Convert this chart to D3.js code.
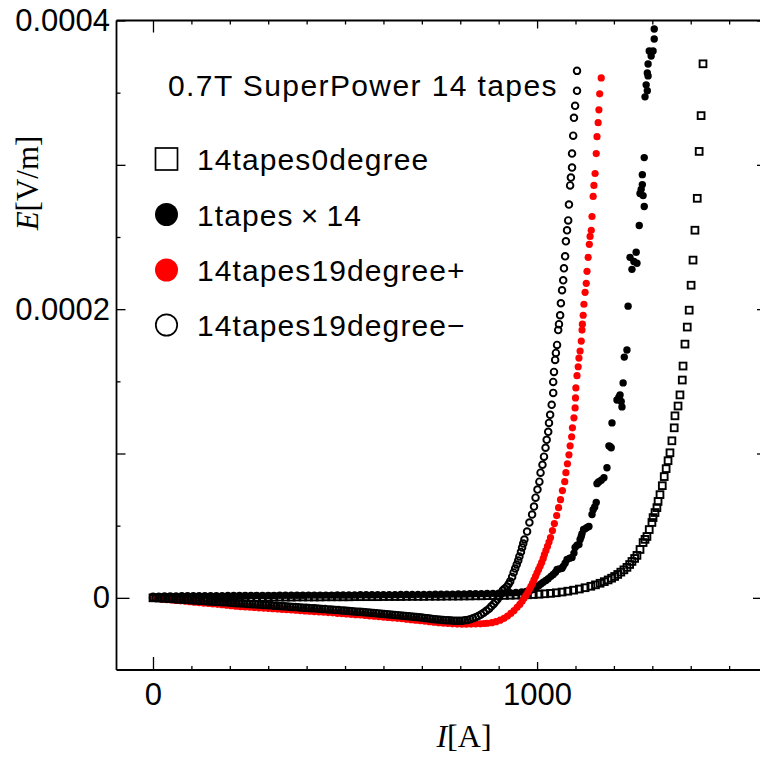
<!DOCTYPE html>
<html>
<head>
<meta charset="utf-8">
<script src="https://cdn.jsdelivr.net/npm/d3@7"></script>
<style>
  body { margin: 0; background: #fff; }
</style>
</head>
<body>
<svg id="chart" width="760" height="758"></svg>
<script>
// each point: [I in A, E in µV/m]
const tapes14Deg0 = [
  [0,0.0],[15,0.0],[30,0.1],[45,0.1],[60,0.1],[75,0.1],[90,0.2],[105,0.2],[120,0.2],[135,0.2],
  [150,0.3],[165,0.3],[180,0.3],[195,0.3],[210,0.3],[225,0.4],[240,0.4],[255,0.4],[270,0.4],[285,0.4],
  [300,0.5],[315,0.5],[330,0.5],[345,0.5],[360,0.5],[375,0.6],[390,0.6],[405,0.6],[420,0.6],[435,0.6],
  [450,0.7],[465,0.7],[480,0.7],[495,0.7],[510,0.7],[525,0.8],[540,0.8],[555,0.8],[570,0.8],[585,0.8],
  [600,0.9],[615,0.9],[630,0.9],[645,0.9],[660,1.0],[675,1.0],[690,1.0],[705,1.0],[720,1.1],[735,1.1],
  [750,1.1],[765,1.2],[780,1.2],[795,1.2],[810,1.3],[825,1.3],[840,1.4],[855,1.4],[870,1.5],[885,1.5],
  [900,1.6],[915,1.7],[930,1.8],[945,1.9],[960,2.0],[975,2.1],[990,2.3],[1005,2.5],[1020,2.8],[1035,3.1],
  [1050,3.5],[1065,4.0],[1080,4.6],[1095,5.3],[1110,6.1],[1125,7.0],[1140,8.0],[1152,9.0],[1164,10.1],[1175,11.2],
  [1185,12.4],[1194,13.6],[1202,14.8],[1210,16.2],[1218,17.8],[1226,19.4],[1234,21.1],[1241,23.1],[1247,25.2],[1254,27.3],
  [1260,29.4],[1268,33.5],[1276,38.3],[1281,40.5],[1286,42.5],[1292,47.3],[1299,52.2],[1302,55.6],[1307,59.1],[1312,62.5],
  [1315,66.8],[1320,71.5],[1326,77.7],[1331,84.0],[1336,89.5],[1341,95.0],[1346,100.5],[1351,108.8],[1357,117.8],[1359,126.1],
  [1367,132.9],[1372,140.6],[1378,150.9],[1380,160.6],[1385,175.8],[1391,187.6],[1396,199.3],[1401,216.6],[1406,234.0],[1411,254.7],
  [1417,276.8],[1422,309.3],[1427,334.1],[1432,370.0]
];

const tapes1x14 = [
  [0,1.2],[15,1.2],[30,1.3],[45,1.3],[60,1.3],[75,1.4],[90,1.4],[105,1.4],[120,1.4],[135,1.5],
  [150,1.5],[165,1.5],[180,1.5],[195,1.6],[210,1.6],[225,1.6],[240,1.6],[255,1.7],[270,1.7],[285,1.7],
  [300,1.7],[315,1.7],[330,1.8],[345,1.8],[360,1.8],[375,1.8],[390,1.8],[405,1.9],[420,1.9],[435,1.9],
  [450,1.9],[465,1.9],[480,2.0],[495,2.0],[510,2.0],[525,2.0],[540,2.1],[555,2.1],[570,2.1],[585,2.1],
  [600,2.2],[615,2.2],[630,2.2],[645,2.3],[660,2.3],[675,2.3],[690,2.4],[705,2.4],[720,2.4],[735,2.5],
  [750,2.5],[765,2.6],[780,2.6],[795,2.7],[810,2.7],[825,2.8],[840,2.9],[855,2.9],[870,3.0],[885,3.1],
  [900,3.2],[915,3.3],[930,3.5],[945,3.7],[960,4.0],[972,4.4],[982,5.0],[990,5.8],[998,7.0],[1004,8.4],
  [1010,9.6],[1016,10.8],[1023,12.0],[1029,13.2],[1036,14.9],[1042,16.2],[1048,17.8],[1052,19.7],[1058,20.0],[1065,20.5],
  [1068,21.8],[1073,24.0],[1078,26.6],[1085,27.5],[1091,28.0],[1096,31.0],[1099,34.9],[1104,36.5],[1109,37.0],[1112,40.4],
  [1115,42.5],[1117,44.5],[1121,47.3],[1125,47.8],[1130,48.7],[1135,49.5],[1143,57.7],[1146,61.1],[1150,63.0],[1154,66.0],
  [1156,79.1],[1159,80.0],[1161,80.5],[1167,81.5],[1174,83.2],[1182,90.1],[1187,105.3],[1190,104.8],[1193,104.0],[1195,121.2],
  [1208,137.1],[1213,139.0],[1216,140.6],[1219,136.0],[1221,132.3],[1224,148.9],[1227,166.8],[1234,171.7],[1237,202.1],[1242,235.9],
  [1247,227.6],[1252,233.0],[1258,239.4],[1260,231.8],[1266,258.0],[1268,280.1],[1271,283.0],[1274,286.3],[1274,293.2],[1276,278.7],
  [1279,271.1],[1279,305.0],[1281,347.1],[1284,355.4],[1287,351.3],[1287,363.7],[1289,361.6],[1289,369.9],[1292,378.9],[1297,375.4],
  [1302,378.9],[1305,387.2],[1305,394.1]
];

const tapes14Deg19Plus = [
  [0,-0.3],[12,-0.6],[24,-0.9],[36,-1.2],[48,-1.5],[60,-1.8],[72,-2.1],[84,-2.4],[96,-2.7],[108,-3.0],
  [120,-3.3],[132,-3.6],[144,-3.9],[156,-4.2],[168,-4.5],[180,-4.8],[192,-5.1],[204,-5.4],[216,-5.8],[228,-6.1],
  [240,-6.3],[252,-6.5],[264,-6.7],[276,-6.9],[288,-7.1],[300,-7.3],[312,-7.5],[324,-7.8],[336,-8.0],[348,-8.2],
  [360,-8.4],[372,-8.6],[384,-8.8],[396,-9.1],[408,-9.3],[420,-9.5],[432,-9.7],[444,-10.0],[456,-10.2],[468,-10.4],
  [480,-10.7],[492,-10.9],[504,-11.2],[516,-11.4],[528,-11.7],[540,-11.9],[552,-12.2],[564,-12.5],[576,-12.7],[588,-13.0],
  [600,-13.3],[612,-13.6],[624,-13.9],[636,-14.2],[648,-14.5],[660,-14.8],[672,-15.1],[684,-15.5],[696,-15.8],[708,-16.2],
  [720,-16.5],[732,-16.9],[744,-17.2],[756,-17.5],[768,-17.8],[780,-18.0],[792,-18.2],[804,-18.3],[816,-18.3],[828,-18.2],
  [840,-18.1],[852,-18.0],[862,-17.8],[870,-17.6],[882,-17.2],[893,-16.5],[904,-15.5],[914,-14.2],[923,-12.6],[932,-10.7],
  [940,-8.8],[948,-6.6],[955,-4.6],[961,-2.4],[966,-0.3],[971,1.7],[976,3.8],[980,5.9],[984,8.0],[988,10.0],
  [992,12.4],[996,14.9],[1000,17.3],[1004,19.7],[1008,22.0],[1012,24.5],[1016,27.3],[1019,30.0],[1023,32.8],[1027,35.6],
  [1031,38.7],[1035,41.8],[1040,46.6],[1045,51.5],[1051,57.0],[1056,62.5],[1061,68.0],[1066,74.3],[1072,80.5],[1075,86.7],
  [1079,92.9],[1083,99.1],[1086,105.3],[1090,111.6],[1092,117.8],[1096,124.7],[1099,131.6],[1100,138.5],[1101,145.4],[1104,153.9],
  [1107,160.1],[1109,166.1],[1112,171.0],[1115,177.9],[1117,185.5],[1118,189.6],[1120,195.8],[1122,203.4],[1125,211.7],[1128,217.9],
  [1130,226.2],[1133,235.9],[1136,244.9],[1138,250.4],[1141,254.6],[1143,264.2],[1146,278.1],[1148,285.7],[1151,294.0],[1154,307.8],
  [1156,319.5],[1159,329.2],[1161,338.1],[1163,349.2],[1167,360.2]
];

const tapes14Deg19Minus = [
  [0,0.0],[7,-0.1],[14,-0.2],[21,-0.4],[28,-0.5],[35,-0.6],[42,-0.7],[49,-0.8],[56,-0.9],[63,-1.1],
  [70,-1.2],[77,-1.3],[84,-1.4],[91,-1.5],[98,-1.6],[105,-1.8],[112,-1.9],[119,-2.0],[126,-2.1],[133,-2.2],
  [140,-2.3],[147,-2.5],[154,-2.6],[161,-2.7],[168,-2.8],[175,-2.9],[182,-3.0],[189,-3.1],[196,-3.3],[203,-3.4],
  [210,-3.5],[217,-3.7],[224,-3.8],[231,-3.9],[238,-4.0],[245,-4.2],[252,-4.3],[259,-4.4],[266,-4.5],[273,-4.6],
  [280,-4.8],[287,-4.9],[294,-5.0],[301,-5.1],[308,-5.2],[315,-5.4],[322,-5.5],[329,-5.7],[336,-5.8],[343,-5.9],
  [350,-6.0],[357,-6.2],[364,-6.3],[371,-6.4],[378,-6.5],[385,-6.7],[392,-6.8],[399,-6.9],[406,-7.1],[413,-7.2],
  [420,-7.3],[427,-7.4],[434,-7.6],[441,-7.7],[448,-7.8],[455,-8.0],[462,-8.1],[469,-8.2],[476,-8.4],[483,-8.5],
  [490,-8.7],[497,-8.8],[504,-9.0],[511,-9.1],[518,-9.3],[525,-9.4],[532,-9.6],[539,-9.7],[546,-9.9],[553,-10.0],
  [560,-10.2],[567,-10.3],[574,-10.5],[581,-10.6],[588,-10.8],[595,-11.0],[602,-11.2],[609,-11.3],[616,-11.5],[623,-11.7],
  [630,-11.9],[637,-12.0],[644,-12.2],[651,-12.4],[658,-12.6],[665,-12.7],[672,-12.9],[679,-13.1],[686,-13.3],[693,-13.5],
  [700,-13.7],[707,-14.0],[714,-14.2],[721,-14.4],[728,-14.6],[735,-14.8],[742,-15.0],[749,-15.2],[756,-15.3],[763,-15.5],
  [770,-15.6],[777,-15.7],[784,-15.8],[791,-15.9],[798,-15.9],[805,-15.8],[812,-15.6],[819,-15.3],[826,-14.8],[833,-14.2],
  [840,-13.5],[847,-12.6],[854,-11.6],[861,-10.4],[868,-9.0],[875,-7.5],[881,-5.9],[887,-4.2],[892,-2.6],[897,-1.0],
  [901,0.8],[906,2.8],[911,5.2],[916,6.5],[922,7.9],[926,9.6],[930,11.4],[935,14.5],[939,17.6],[943,20.3],
  [947,23.1],[951,25.9],[954,28.7],[958,31.8],[961,34.9],[964,37.6],[967,40.4],[974,45.9],[980,52.2],[987,57.7],
  [992,63.2],[996,69.4],[1001,75.0],[1006,80.5],[1009,86.7],[1014,92.2],[1018,97.8],[1022,104.0],[1025,109.5],[1029,115.0],
  [1031,121.2],[1034,126.8],[1038,133.7],[1042,142.0],[1042,149.6],[1044,156.5],[1047,164.8],[1049,169.7],[1052,175.2],[1055,185.5],
  [1057,189.6],[1060,195.8],[1062,204.1],[1065,213.1],[1068,220.0],[1070,228.3],[1073,236.6],[1075,247.0],[1078,254.6],[1081,261.5],
  [1083,272.5],[1086,285.7],[1088,291.2],[1091,298.1],[1091,307.8],[1094,320.2],[1096,332.6],[1099,340.9],[1104,351.3],[1104,365.1]
];

const seriesNames = ['14tapes0degree', '1tapes\u2009×\u200914', '14tapes19degree+', '14tapes19degree−'];
const titleText = '0.7T SuperPower 14 tapes';
const xLabelTicks = [0, 1000];
const yLabelTicks = [0, 0.0002, 0.0004];

const uV = 1e-6;
const sans = '"Liberation Sans", Arial, sans-serif';
const serif = '"Liberation Serif", "Times New Roman", serif';

const svg = d3.select('#chart');

// frame geometry (right edge sits just past the window like the original)
const frameL = 116.5, frameR = 766, frameT = 20.5, frameB = 670;

const x = d3.scaleLinear().domain([-95, 1596]).range([frameL, frameR]);
const y = d3.scaleLinear().domain([-0.00005, 0.0004]).range([frameB, frameT]);

// ticks, all pointing into the frame
function tickSet(axis, values, len, transform) {
  svg.append('g')
    .attr('transform', transform)
    .call(axis.tickValues(values).tickSize(-len).tickSizeOuter(0).tickFormat(''))
    .call(g => g.select('.domain').remove())
    .call(g => g.selectAll('line').attr('stroke', '#000').attr('stroke-width', 1.3));
}

const xMinor = d3.range(100, 1600, 100).filter(v => v !== 1000);
const yMinor = [0.00005, 0.00015, 0.00025, 0.00035];
const yMajor = [0.0001, 0.0002, 0.0003, 0.0004];

tickSet(d3.axisBottom(x), xMinor, 4, `translate(0,${frameB})`);
tickSet(d3.axisBottom(x), [1000], 8, `translate(0,${frameB})`);
tickSet(d3.axisBottom(x), [0], 13, `translate(0,${frameB})`);
tickSet(d3.axisTop(x), xMinor, 4, `translate(0,${frameT})`);
tickSet(d3.axisTop(x), [1000], 8, `translate(0,${frameT})`);
tickSet(d3.axisTop(x), [0], 12, `translate(0,${frameT})`);

tickSet(d3.axisLeft(y), yMinor, 4, `translate(${frameL},0)`);
tickSet(d3.axisLeft(y), yMajor, 9, `translate(${frameL},0)`);
tickSet(d3.axisLeft(y), [0], 13, `translate(${frameL},0)`);
tickSet(d3.axisRight(y), yMinor, 4, `translate(${frameR},0)`);
tickSet(d3.axisRight(y), yMajor, 9, `translate(${frameR},0)`);
tickSet(d3.axisRight(y), [0], 13, `translate(${frameR},0)`);

// frame lines
const frame = svg.append('g').attr('stroke', '#000').attr('stroke-width', 1.8);
frame.append('line').attr('x1', frameL).attr('x2', frameL).attr('y1', frameT).attr('y2', frameB);
frame.append('line').attr('x1', frameL).attr('x2', frameR).attr('y1', frameB).attr('y2', frameB);
frame.append('line').attr('x1', frameL).attr('x2', frameR).attr('y1', frameT).attr('y2', frameT);
frame.append('line').attr('x1', frameR).attr('x2', frameR).attr('y1', frameT).attr('y2', frameB);

// tick labels
svg.append('g')
  .attr('transform', `translate(0,${frameB})`)
  .call(d3.axisBottom(x).tickValues(xLabelTicks).tickSize(0).tickPadding(13).tickFormat(d3.format('d')))
  .call(g => g.select('.domain').remove())
  .call(g => g.selectAll('text').attr('fill', '#000')
    .style('font-size', '31px').style('font-family', sans));

svg.append('g')
  .attr('transform', `translate(${frameL},0)`)
  .call(d3.axisLeft(y).tickValues(yLabelTicks).tickSize(0).tickPadding(6.5)
    .tickFormat(d => d === 0 ? '0' : d.toFixed(4)))
  .call(g => g.select('.domain').remove())
  .call(g => g.selectAll('text').attr('fill', '#000')
    .style('font-size', '31px').style('font-family', sans));

// axis titles
const xTitle = svg.append('text')
  .attr('x', 464).attr('y', 747)
  .attr('text-anchor', 'middle')
  .style('font-family', serif).style('font-size', '32px');
xTitle.append('tspan').style('font-style', 'italic').text('I');
xTitle.append('tspan').text('[A]');

const yTitle = svg.append('text')
  .attr('transform', 'translate(38,183) rotate(-90)')
  .attr('text-anchor', 'middle')
  .style('font-family', serif).style('font-size', '31px');
yTitle.append('tspan').style('font-style', 'italic').text('E');
yTitle.append('tspan').text('[V/m]');

// data marks
svg.append('clipPath').attr('id', 'plot-clip')
  .append('rect').attr('x', frameL).attr('y', frameT)
  .attr('width', frameR - frameL).attr('height', frameB - frameT);

const plot = svg.append('g').attr('clip-path', 'url(#plot-clip)');

const sq = 6.8;
plot.append('g').selectAll('rect')
  .data(tapes14Deg0)
  .join('rect')
  .attr('x', d => x(d[0]) - sq / 2)
  .attr('y', d => y(d[1] * uV) - sq / 2)
  .attr('width', sq).attr('height', sq)
  .attr('fill', 'none').attr('stroke', '#000').attr('stroke-width', 1.9);

plot.append('g').selectAll('circle')
  .data(tapes1x14)
  .join('circle')
  .attr('cx', d => x(d[0]))
  .attr('cy', d => y(d[1] * uV))
  .attr('r', 3.7)
  .attr('fill', '#000');

plot.append('g').selectAll('circle')
  .data(tapes14Deg19Plus)
  .join('circle')
  .attr('cx', d => x(d[0]))
  .attr('cy', d => y(d[1] * uV))
  .attr('r', 3.6)
  .attr('fill', '#ff0000');

plot.append('g').selectAll('circle')
  .data(tapes14Deg19Minus)
  .join('circle')
  .attr('cx', d => x(d[0]))
  .attr('cy', d => y(d[1] * uV))
  .attr('r', 3.3)
  .attr('fill', 'none').attr('stroke', '#000').attr('stroke-width', 1.9);

// title
svg.append('text')
  .attr('x', 168).attr('y', 96)
  .attr('letter-spacing', 1.4)
  .style('font-family', sans).style('font-size', '30px')
  .text(titleText);

// legend
const legend = svg.append('g');
const rowY = [159, 214.5, 270, 325];
const lg = 22;

legend.append('rect')
  .attr('x', 166.5 - lg / 2).attr('y', rowY[0] - lg / 2)
  .attr('width', lg).attr('height', lg)
  .attr('fill', 'none').attr('stroke', '#000').attr('stroke-width', 1.7);
legend.append('circle').attr('cx', 166.5).attr('cy', rowY[1]).attr('r', 11.5).attr('fill', '#000');
legend.append('circle').attr('cx', 166.5).attr('cy', rowY[2]).attr('r', 11.5).attr('fill', '#ff0000');
legend.append('circle').attr('cx', 166.5).attr('cy', rowY[3]).attr('r', 10.7)
  .attr('fill', 'none').attr('stroke', '#000').attr('stroke-width', 1.7);

legend.selectAll('text')
  .data(seriesNames)
  .join('text')
  .attr('x', 197)
  .attr('y', (d, i) => rowY[i] + 11)
  .attr('letter-spacing', 1.1)
  .style('font-family', sans).style('font-size', '30px')
  .text(d => d);
</script>
</body>
</html>
